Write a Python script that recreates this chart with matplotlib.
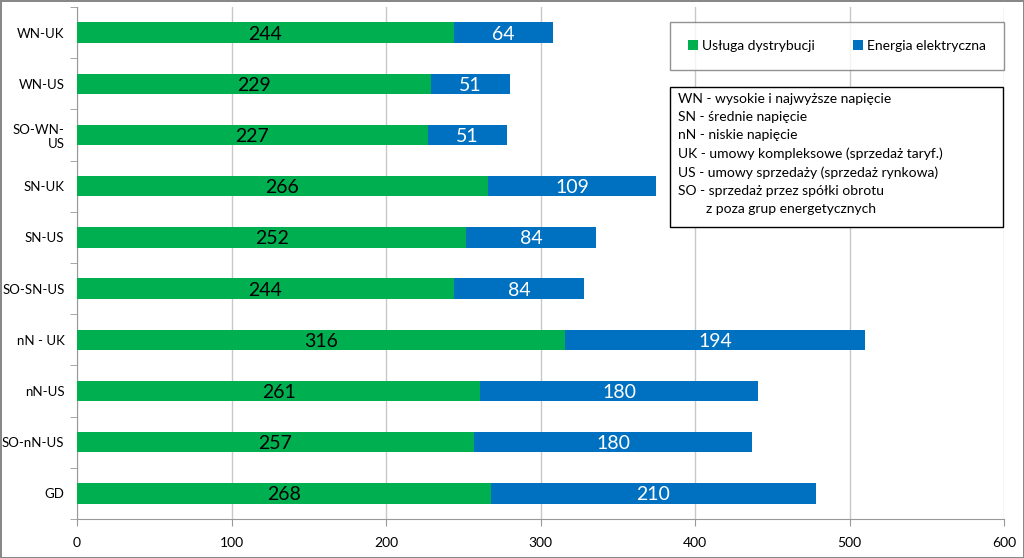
import numpy as np
import matplotlib
matplotlib.use("Agg")
import matplotlib.pyplot as plt
from matplotlib.patches import Rectangle

plt.rcParams['font.family'] = ['Lato', 'DejaVu Sans']

# dane
kategorie = ["WN-UK", "WN-US", "SO-WN-\nUS", "SN-UK", "SN-US", "SO-SN-US",
             "nN - UK", "nN-US", "SO-nN-US", "GD"]
dystrybucja = [244, 229, 227, 266, 252, 244, 316, 261, 257, 268]
energia = [64, 51, 51, 109, 84, 84, 194, 180, 180, 210]
x_ticks = [0, 100, 200, 300, 400, 500, 600]
opis = ["WN - wysokie i najwyższe napięcie",
        "SN - średnie napięcie",
        "nN - niskie napięcie",
        "UK - umowy kompleksowe (sprzedaż taryf.)",
        "US - umowy sprzedaży (sprzedaż rynkowa)",
        "SO - sprzedaż przez spółki obrotu",
        "        z poza grup energetycznych"]

zielony = "#00B050"
niebieski = "#0070C0"

fig = plt.figure(figsize=(10.24, 5.58), dpi=100)
fig.patch.set_edgecolor("#888888")
fig.patch.set_linewidth(2)
ax = fig.add_axes([0.0752, 0.0699, 0.9053, 0.9176])

y = np.arange(len(kategorie))
ax.barh(y, dystrybucja, height=0.4, color=zielony, label="Usługa dystrybucji", zorder=3)
ax.barh(y, energia, left=dystrybucja, height=0.4, color=niebieski,
        label="Energia elektryczna", zorder=3)

for i in range(len(kategorie)):
    ax.text(dystrybucja[i] / 2, y[i] + 0.03, str(dystrybucja[i]), ha="center", va="center",
            fontsize=14, color="black", zorder=4)
    ax.text(dystrybucja[i] + energia[i] / 2, y[i] + 0.03, str(energia[i]), ha="center",
            va="center", fontsize=14, color="white", zorder=4)

ax.set_xlim(0, 600)
ax.set_ylim(len(kategorie) - 0.5, -0.5)
ax.set_xticks(x_ticks)
ax.set_yticks(y)
ax.set_yticklabels(kategorie, fontsize=9.5)
ax.set_yticks(np.arange(-0.5, len(kategorie), 1), minor=True)
ax.tick_params(axis="y", which="major", length=0, pad=9)
ax.tick_params(axis="y", which="minor", length=5, color="#999999")
ax.tick_params(axis="x", length=5, color="#999999", labelsize=10, pad=8)
ax.grid(axis="x", color="#C8C8C8", linewidth=1, zorder=0)
for s in ["top", "right"]:
    ax.spines[s].set_visible(False)
for s in ["left", "bottom"]:
    ax.spines[s].set_color("#999999")

leg = ax.legend(loc="center", bbox_to_anchor=(0.6395, 0.869, 0.3605, 0.1095),
                mode="expand", ncol=2, fontsize=10, frameon=True, fancybox=False,
                handlelength=0.7, handleheight=0.7, handletextpad=0.3,
                borderaxespad=0, borderpad=1.3, columnspacing=1.5)
leg.get_frame().set_edgecolor("#777777")
leg.get_frame().set_linewidth(1)

fig.patches.append(Rectangle((670 / 1024, 1 - 227 / 558), 333 / 1024, 140 / 558,
                             transform=fig.transFigure, facecolor="white",
                             edgecolor="black", linewidth=1, zorder=5))
fig.text(678 / 1024, 1 - 93 / 558, "\n".join(opis), ha="left", va="top",
         fontsize=10, linespacing=1.6, zorder=6)

fig.savefig("out.png", dpi=100)
